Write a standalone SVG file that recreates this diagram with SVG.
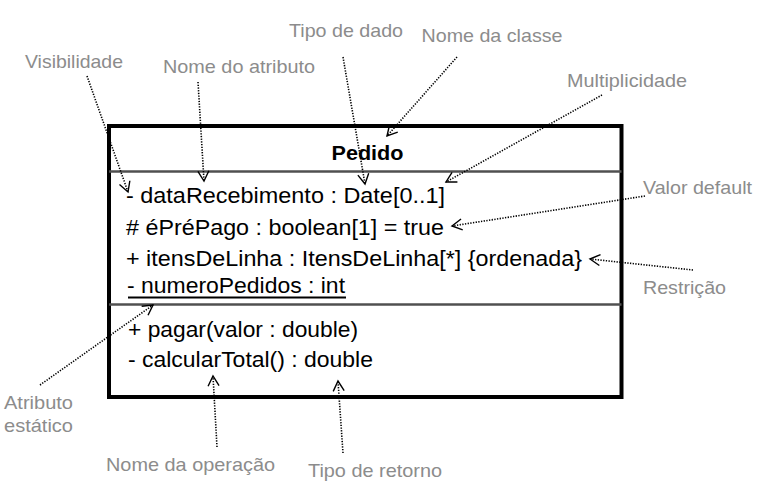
<svg xmlns="http://www.w3.org/2000/svg" width="758" height="487" viewBox="0 0 758 487">
  <style>
    .box { fill: #ffffff; stroke: #000000; stroke-width: 4; }
    .div { stroke: #505050; stroke-width: 2.5; }
    .mem { font-family: "Liberation Sans", Arial, sans-serif; font-size: 22px; fill: #000000; }
    .title { font-family: "Liberation Sans", Arial, sans-serif; font-size: 20px; font-weight: bold; fill: #000000; }
    .lbl { font-family: "Liberation Sans", Arial, sans-serif; font-size: 18.5px; fill: #8c8c8c; }
    .conn { fill: none; stroke: #000000; stroke-width: 1.6; stroke-dasharray: 1.3 1.4; marker-end: url(#arr); }
  </style>
  <defs>
    <marker id="arr" markerUnits="userSpaceOnUse" viewBox="-12 -7 14 14" markerWidth="14" markerHeight="14" refX="0" refY="0" orient="auto">
      <path d="M-10,-5.5 L0,0 L-10,5.5" fill="none" stroke="#000000" stroke-width="1.4" stroke-dasharray="none"/>
    </marker>
  </defs>
  <rect width="758" height="487" fill="#ffffff"/>

  <g id="pedido">
    <rect class="box" x="109" y="126" width="512.5" height="271"/>
    <line class="div" x1="109" y1="171.5" x2="621.5" y2="171.5"/>
    <line class="div" x1="109" y1="304.5" x2="621.5" y2="304.5"/>
    <text class="title" x="367.5" y="159.5" text-anchor="middle" textLength="72" lengthAdjust="spacingAndGlyphs">Pedido</text>
    <text class="mem" x="126" y="203" textLength="319" lengthAdjust="spacingAndGlyphs">- dataRecebimento : Date[0..1]</text>
    <text class="mem" x="126" y="235" textLength="318" lengthAdjust="spacingAndGlyphs"># éPréPago : boolean[1] = true</text>
    <text class="mem" x="126" y="266" textLength="456" lengthAdjust="spacingAndGlyphs">+ itensDeLinha : ItensDeLinha[*] {ordenada}</text>
    <text class="mem" x="127" y="293" textLength="218" lengthAdjust="spacingAndGlyphs">- numeroPedidos : int</text>
    <line x1="128" y1="297.5" x2="346" y2="297.5" stroke="#000000" stroke-width="2"/>
    <text class="mem" x="128" y="336.5" textLength="230" lengthAdjust="spacingAndGlyphs">+ pagar(valor : double)</text>
    <text class="mem" x="128" y="367" textLength="245" lengthAdjust="spacingAndGlyphs">- calcularTotal() : double</text>
  </g>

  <g id="lbl-visibilidade"><text class="lbl" x="25" y="68" textLength="98" lengthAdjust="spacingAndGlyphs">Visibilidade</text></g>
  <g id="lbl-nome-atributo"><text class="lbl" x="163" y="73" textLength="152" lengthAdjust="spacingAndGlyphs">Nome do atributo</text></g>
  <g id="lbl-tipo-dado"><text class="lbl" x="289" y="37" textLength="114" lengthAdjust="spacingAndGlyphs">Tipo de dado</text></g>
  <g id="lbl-nome-classe"><text class="lbl" x="421.5" y="41.5" textLength="141" lengthAdjust="spacingAndGlyphs">Nome da classe</text></g>
  <g id="lbl-multiplicidade"><text class="lbl" x="567" y="87" textLength="120" lengthAdjust="spacingAndGlyphs">Multiplicidade</text></g>
  <g id="lbl-valor-default"><text class="lbl" x="643" y="193.5" textLength="109" lengthAdjust="spacingAndGlyphs">Valor default</text></g>
  <g id="lbl-restricao"><text class="lbl" x="643" y="294" textLength="83" lengthAdjust="spacingAndGlyphs">Restrição</text></g>
  <g id="lbl-atributo-estatico">
    <text class="lbl" x="4" y="408.5" textLength="69" lengthAdjust="spacingAndGlyphs">Atributo</text>
    <text class="lbl" x="4" y="431.5" textLength="69" lengthAdjust="spacingAndGlyphs">estático</text>
  </g>
  <g id="lbl-nome-operacao"><text class="lbl" x="106" y="471" textLength="169" lengthAdjust="spacingAndGlyphs">Nome da operação</text></g>
  <g id="lbl-tipo-retorno"><text class="lbl" x="308" y="476.5" textLength="134" lengthAdjust="spacingAndGlyphs">Tipo de retorno</text></g>

  <g id="connectors">
    <line class="conn" x1="87" y1="76" x2="128" y2="192"/>
    <line class="conn" x1="198" y1="82" x2="204" y2="181"/>
    <line class="conn" x1="343" y1="57" x2="365" y2="184"/>
    <line class="conn" x1="457" y1="57" x2="387" y2="136"/>
    <line class="conn" x1="602" y1="95" x2="446" y2="182"/>
    <line class="conn" x1="645" y1="196" x2="452" y2="226"/>
    <line class="conn" x1="693" y1="270" x2="590" y2="259"/>
    <line class="conn" x1="40" y1="385" x2="153" y2="305"/>
    <line class="conn" x1="217" y1="447" x2="213" y2="376"/>
    <line class="conn" x1="343" y1="453" x2="338" y2="381"/>
  </g>
</svg>
